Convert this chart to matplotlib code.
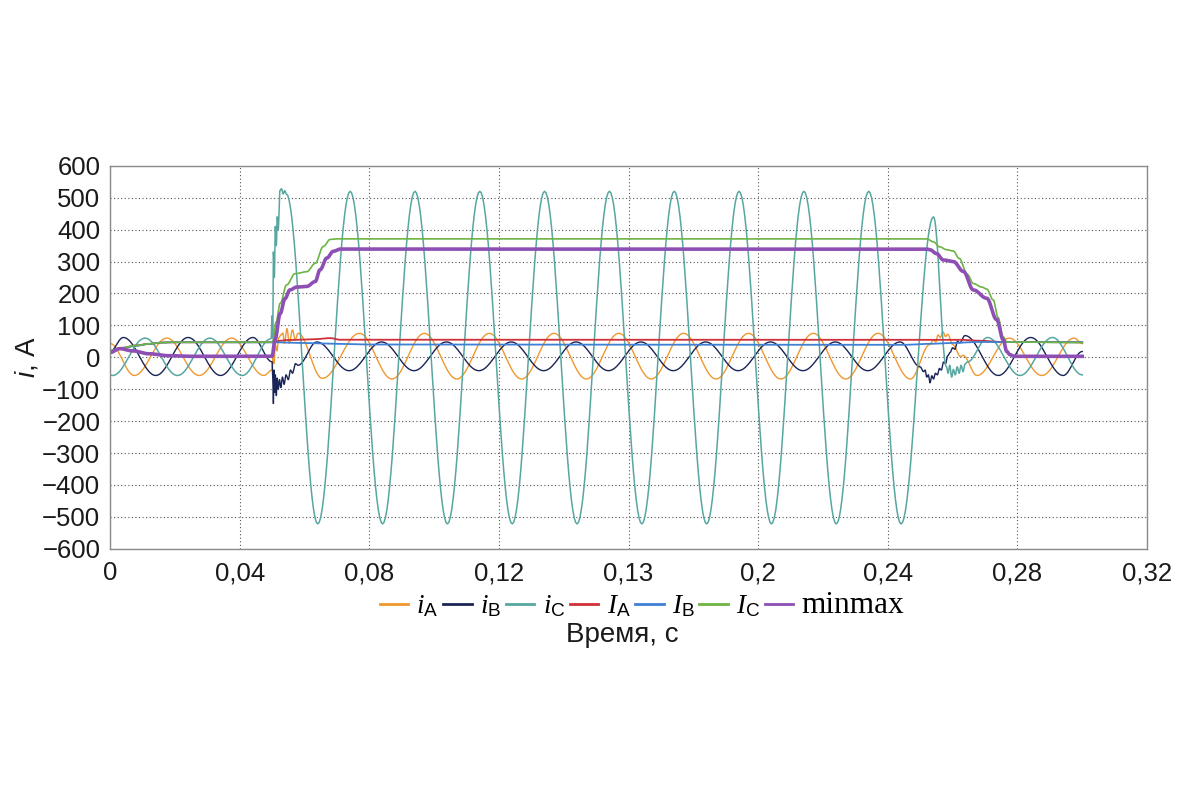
import numpy as np
import matplotlib
matplotlib.use("Agg")
import matplotlib.pyplot as plt

plt.rcParams['font.family'] = ['Liberation Sans', 'DejaVu Sans']
plt.rcParams['mathtext.fontset'] = 'custom'
plt.rcParams['mathtext.it'] = 'Liberation Serif:italic'
plt.rcParams['mathtext.rm'] = 'Liberation Sans'
plt.rcParams['mathtext.sf'] = 'Liberation Sans:italic'

# ---------------- data (time in s, current in A) ----------------
# phase currents: extrema / breakpoints (cosine-shaped between knots)
iA_t = [0.0000, 0.0075, 0.0175, 0.0275, 0.0375, 0.0475, 0.0500,
        0.0503, 0.0506, 0.0510, 0.0515, 0.0520, 0.0527, 0.0533, 0.0538, 0.0546, 0.0553, 0.0563, 0.0571, 0.0580,
        0.0655, 0.0770, 0.0870, 0.0970, 0.1070, 0.1170, 0.1270, 0.1370, 0.1470, 0.1570, 0.1670,
        0.1770, 0.1870, 0.1970, 0.2070, 0.2170, 0.2270, 0.2370, 0.2470,
        0.2530, 0.2540, 0.2548, 0.2555, 0.2562, 0.2570, 0.2578, 0.2585, 0.2600, 0.2625, 0.2632,
        0.2675, 0.2775, 0.2875, 0.2975, 0.3000]
iA_v = [43, -57, 60, -57, 60, -57, -40,
        10, -20, 40, 20, 60, 70, 76, 44, 90, 44, 86, 55, 75,
        -66, 75, -68, 75, -68, 75, -68, 75, -68, 75, -68,
        75, -68, 75, -68, 75, -68, 75, -68,
        40, 55, 48, 70, 62, 80, 65, 72, 40, 2, 6,
        -57, 60, -57, 60, 43]

iB_t = [0.0000, 0.0041, 0.0141, 0.0241, 0.0341, 0.0441, 0.0500,
        0.0502, 0.0504, 0.0506, 0.0508, 0.0510, 0.0513, 0.0516, 0.0519, 0.0523, 0.0527, 0.0532, 0.0537,
        0.0543, 0.0550, 0.0557, 0.0563, 0.0572, 0.0580,
        0.0638, 0.0738, 0.0838, 0.0938, 0.1038, 0.1138, 0.1238, 0.1338, 0.1438, 0.1538,
        0.1638, 0.1738, 0.1838, 0.1938, 0.2038, 0.2138, 0.2238, 0.2338, 0.2438,
        0.2500, 0.2510, 0.2515, 0.2520, 0.2525, 0.2530, 0.2536, 0.2541, 0.2547, 0.2553, 0.2559,
        0.2565, 0.2572, 0.2578, 0.2585, 0.2592, 0.2600, 0.2607, 0.2615, 0.2622,
        0.2638, 0.2741, 0.2841, 0.2941, 0.3000]
iB_v = [18, 62, -57, 62, -57, 62, -14,
        -60, -145, -40, -110, -55, -120, -65, -100, -70, -95, -62, -85,
        -55, -70, -40, -50, -20, -25,
        48, -42, 48, -42, 48, -42, 48, -42, 48, -42,
        48, -42, 48, -42, 48, -42, 48, -42, 48,
        -30, -45, -40, -62, -55, -80, -58, -68, -50, -55, -35,
        -40, -15, -20, 5, 15, 30, 25, 50, 45,
        68, -57, 62, -57, 18]

iC_t = [0.0000, 0.0008, 0.0108, 0.0208, 0.0308, 0.0408, 0.0497,
        0.0500, 0.0502, 0.0504, 0.0507, 0.0510, 0.0513, 0.0516, 0.0519, 0.0524, 0.0529, 0.0534, 0.0539, 0.0544,
        0.0641, 0.0741, 0.0841, 0.0941, 0.1041, 0.1141, 0.1241, 0.1341, 0.1441, 0.1541,
        0.1641, 0.1741, 0.1841, 0.1941, 0.2041, 0.2141, 0.2241, 0.2341, 0.2441, 0.2541,
        0.2581, 0.2586, 0.2591, 0.2597, 0.2602, 0.2608, 0.2614, 0.2620, 0.2626, 0.2632, 0.2638, 0.2645,
        0.2708, 0.2808, 0.2908, 0.3000]
iC_v = [-56, -57, 60, -57, 60, -57, 58,
        130, 60, 330, 250, 410, 350, 440, 400, 522, 528, 512, 522, 512,
        -522, 520, -522, 520, -522, 520, -522, 520, -522, 520,
        -522, 520, -522, 520, -522, 520, -522, 520, -522, 440,
        -30, -50, -25, -62, -38, -55, -30, -50, -25, -45, -22, -15,
        62, -57, 62, -55]

# RMS values and minmax (breakpoints)
IA_t = [0.000, 0.004, 0.008, 0.012, 0.016, 0.019, 0.0500, 0.0505, 0.055, 0.062, 0.068, 0.071,
        0.262, 0.268, 0.275, 0.300]
IA_v = [20, 30, 37, 42, 46, 47, 47, 50, 54, 56, 60, 55, 55, 52, 48, 47]

IB_t = [0.000, 0.004, 0.008, 0.012, 0.016, 0.019, 0.0500, 0.0505, 0.058, 0.070, 0.080,
        0.245, 0.2525, 0.260, 0.268, 0.300]
IB_v = [18, 29, 36, 42, 46, 47, 47, 47, 45, 42, 40, 39, 42, 45, 48, 47]

IC_t = [0.000, 0.004, 0.008, 0.012, 0.016, 0.019, 0.0500, 0.0504, 0.0512, 0.0525, 0.0545, 0.0571,
        0.0607, 0.0633, 0.0658, 0.0679, 0.0700, 0.2520, 0.2540, 0.2560, 0.2581, 0.2602, 0.2620,
        0.2645, 0.2664, 0.2690, 0.2705, 0.2725, 0.2740, 0.2756, 0.2767, 0.3000]
IC_v = [22, 30, 37, 42, 46, 47, 47, 55, 110, 169, 227, 262,
        268, 294, 347, 369, 371, 371, 362, 346, 337, 333, 310,
        260, 231, 220, 214, 180, 125, 64, 48, 46]

MM_t = [0.000, 0.003, 0.007, 0.012, 0.018, 0.025, 0.0500, 0.0509, 0.0525, 0.0540, 0.0555, 0.0576,
        0.0607, 0.0633, 0.0648, 0.0669, 0.0689, 0.0710, 0.2520, 0.2530, 0.2550, 0.2571, 0.2602,
        0.2633, 0.2664, 0.2705, 0.2736, 0.2756, 0.2767, 0.2777, 0.2790, 0.3000]
MM_v = [15, 27, 20, 11, 5, 3, 3, 55, 137, 184, 211, 220,
        222, 237, 274, 311, 332, 339, 339, 337, 325, 305, 300,
        269, 211, 185, 118, 55, 18, 8, 3, 3]

x_ticks = [0.00, 0.04, 0.08, 0.12, 0.16, 0.20, 0.24, 0.28, 0.32]
x_tick_labels = ['0', '0,04', '0,08', '0,12', '0,13', '0,2', '0,24', '0,28', '0,32']
y_ticks = list(range(-600, 601, 100))

labels = [r'$i_\mathrm{A}$', r'$i_\mathrm{B}$', r'$i_\mathrm{C}$',
          r'$I_\mathrm{A}$', r'$I_\mathrm{B}$', r'$I_\mathrm{C}$', 'minmax']
colors = ['#f0982e', '#1b2456', '#57a7a0', '#d03038', '#3f7fd4', '#6cb444', '#8e4fb4']
widths = [1.0, 1.0, 1.1, 1.3, 1.3, 1.2, 2.6]


def smooth(tk, vk, n=24):
    """cosine-shaped segments between successive knots"""
    ts, vs = [tk[0]], [vk[0]]
    for i in range(len(tk) - 1):
        s = np.linspace(0, 1, n)[1:]
        w = (1 - np.cos(np.pi * s)) / 2
        ts.extend(tk[i] + (tk[i + 1] - tk[i]) * s)
        vs.extend(vk[i] + (vk[i + 1] - vk[i]) * w)
    return np.array(ts), np.array(vs)


series = [(iA_t, iA_v), (iB_t, iB_v), (iC_t, iC_v),
          (IA_t, IA_v), (IB_t, IB_v), (IC_t, IC_v), (MM_t, MM_v)]

fig = plt.figure(figsize=(12, 8), dpi=100)
ax = fig.add_axes([0.0917, 0.314, 0.8642, 0.4788])

handles = []
for (tk, vk), lab, c, lw in zip(series, labels, colors, widths):
    t, v = smooth(tk, vk)
    h, = ax.plot(t, v, color=c, lw=lw, label=lab, solid_joinstyle='round')
    handles.append(h)

ax.set_xlim(0, 0.32)
ax.set_ylim(-600, 600)
ax.set_xticks(x_ticks)
ax.set_xticklabels(x_tick_labels)
ax.set_yticks(y_ticks)
ax.set_yticklabels([str(v).replace('-', '\u2212') for v in y_ticks])
ax.tick_params(axis='both', length=0, labelsize=18.5, labelcolor='#1a1a1a')
ax.tick_params(axis='y', pad=7)
ax.tick_params(axis='x', pad=9)
ax.grid(True, color='#555555', linestyle=(0, (1, 2.2)), linewidth=0.8)
for sp in ax.spines.values():
    sp.set_color('#8a8a8a')
    sp.set_linewidth(1.0)

ax.set_ylabel(r'$\mathsf{i}$, A', fontsize=20, labelpad=1, color='#1a1a1a')

leg = fig.legend(handles=handles, loc='center', bbox_to_anchor=(0.535, 0.243), ncol=7,
                 frameon=False, fontsize=19.5, handlelength=1.05, handletextpad=0.3,
                 columnspacing=0.18, borderpad=0.1)
for lh in leg.get_lines():
    lh.set_linewidth(2.0)
for txt in leg.get_texts():
    if txt.get_text() == 'minmax':
        txt.set_fontfamily('Liberation Serif')
        txt.set_fontsize(22.5)

fig.text(0.519, 0.206, 'Время, с', ha='center', va='center', fontsize=20, color='#1a1a1a')

fig.savefig('out.png', dpi=100)
